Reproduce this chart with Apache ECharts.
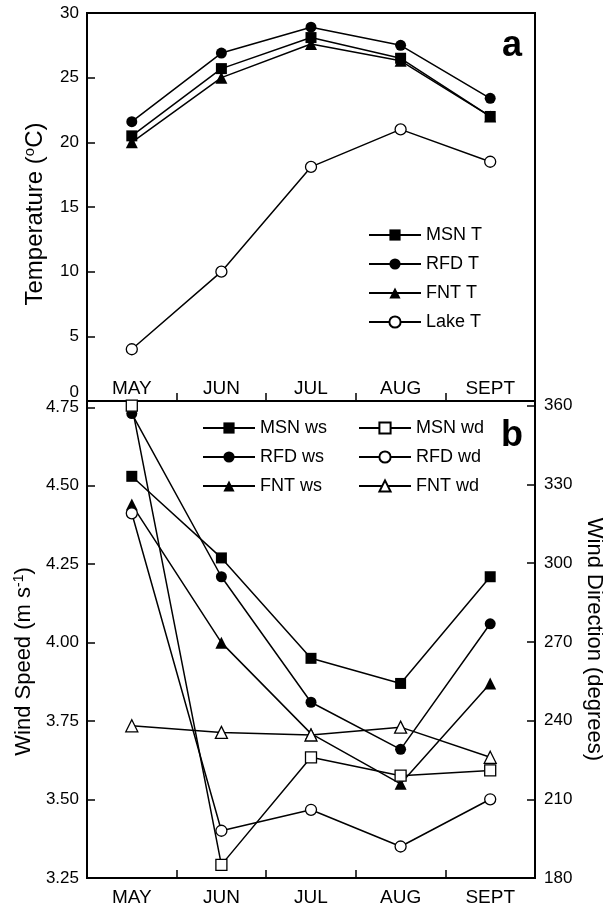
<!DOCTYPE html>
<html>
<head>
<meta charset="utf-8">
<script src="https://cdn.jsdelivr.net/npm/echarts@6/dist/echarts.min.js"></script>
<style>
  html, body { margin: 0; padding: 0; background: #fff; }
  #chart { width: 603px; height: 907px; }
</style>
</head>
<body>
<div id="chart"></div>
<script>
// data
var months = ['MAY', 'JUN', 'JUL', 'AUG', 'SEPT'];
var msnT = [20.5, 25.7, 28.1, 26.5, 22.0];
var rfdT = [21.6, 26.9, 28.9, 27.5, 23.4];
var fntT = [20.0, 25.0, 27.6, 26.3, 22.0];
var lakeT = [4.0, 10.0, 18.1, 21.0, 18.5];
var msnWs = [4.53, 4.27, 3.95, 3.87, 4.21];
var rfdWs = [4.73, 4.21, 3.81, 3.66, 4.06];
var fntWs = [4.44, 4.00, 3.71, 3.55, 3.87];
var msnWd = [360, 185, 226, 219, 221];
var rfdWd = [319, 198, 206, 192, 210];
var fntWd = [238, 235.5, 234.5, 237.5, 226];

(function () {
    var FONT = 'Liberation Sans, Arial, sans-serif';
    var myChart = echarts.init(document.getElementById('chart'));

    // line + marker style helper
    function line(name, data, symbol, open, xi, yi) {
        return {
            name: name,
            type: 'line',
            xAxisIndex: xi,
            yAxisIndex: yi,
            data: data,
            symbol: symbol,
            symbolSize: symbol === 'triangle' ? 12 : 11,
            showAllSymbol: true,
            lineStyle: { color: '#000', width: 1.5 },
            itemStyle: open
                ? { color: '#fff', borderColor: '#000', borderWidth: 1.3 }
                : { color: '#000', borderColor: '#000', borderWidth: 0 },
            emphasis: { disabled: true }
        };
    }

    var legendBase = {
        orient: 'vertical',
        itemWidth: 52,
        itemHeight: 14,
        itemGap: 11,
        selectedMode: false,
        padding: 0,
        textStyle: { fontSize: 18, color: '#000', fontFamily: FONT }
    };

    var tickStyle = { show: true, inside: true, length: 8, lineStyle: { color: '#000', width: 1.5 } };
    var lineAx = { show: true, lineStyle: { color: '#000', width: 2 } };
    var labelStyle = { color: '#000', fontSize: 17, fontFamily: FONT };

    var option = {
        animation: false,
        backgroundColor: '#fff',
        title: [
            { text: 'a', left: 502, top: 28, padding: 0,
              textStyle: { fontSize: 36, fontWeight: 'bold', color: '#000', fontFamily: FONT } },
            { text: 'b', left: 501, top: 418, padding: 0,
              textStyle: { fontSize: 36, fontWeight: 'bold', color: '#000', fontFamily: FONT } }
        ],
        legend: [
            Object.assign({}, legendBase, { data: ['MSN T', 'RFD T', 'FNT T', 'Lake T'], left: 368, top: 226 }),
            Object.assign({}, legendBase, { data: ['MSN ws', 'RFD ws', 'FNT ws'], left: 202, top: 419 }),
            Object.assign({}, legendBase, { data: ['MSN wd', 'RFD wd', 'FNT wd'], left: 358, top: 419 })
        ],
        grid: [
            { left: 87, right: 68, top: 13, height: 388, show: true, borderColor: '#000', borderWidth: 2,
              outerBoundsMode: 'none' },
            { left: 87, right: 68, top: 401, height: 477, show: true, borderColor: '#000', borderWidth: 2,
              outerBoundsMode: 'none' }
        ],
        xAxis: [
            {
                gridIndex: 0, type: 'category', data: months, boundaryGap: true,
                axisLine: lineAx, axisTick: tickStyle,
                axisLabel: Object.assign({}, labelStyle, { inside: true, margin: 3, fontSize: 19, interval: 0 })
            },
            {
                gridIndex: 1, type: 'category', data: months, boundaryGap: true,
                axisLine: lineAx, axisTick: tickStyle,
                axisLabel: Object.assign({}, labelStyle, { margin: 10, fontSize: 19, interval: 0 })
            }
        ],
        yAxis: [
            {
                gridIndex: 0, type: 'value', min: 0, max: 30, interval: 5,
                axisLine: lineAx, axisTick: tickStyle, splitLine: { show: false },
                axisLabel: Object.assign({}, labelStyle, {
                    margin: 8,
                    formatter: function (v) { return v === 0 ? '{lo|0}' : String(v); },
                    rich: { lo: { fontSize: 17, fontFamily: FONT, color: '#000', padding: [0, 0, 18, 0] } }
                }),
                name: 'Temperature ({sup|o}C)', nameLocation: 'middle', nameRotate: 90, nameGap: 39,
                nameTextStyle: {
                    fontSize: 24, color: '#000', fontFamily: FONT, padding: [0, 14, 0, 0],
                    rich: { sup: { fontSize: 15, color: '#000', fontFamily: FONT, padding: [0, 0, 11, 0] } }
                }
            },
            {
                gridIndex: 1, type: 'value', min: 3.25, max: 4.77, interval: 0.25,
                axisLine: lineAx, axisTick: tickStyle, splitLine: { show: false },
                axisLabel: Object.assign({}, labelStyle, {
                    margin: 8, showMaxLabel: false,
                    formatter: function (v) { return v.toFixed(2); }
                }),
                name: 'Wind Speed (m s{sup|-1})', nameLocation: 'middle', nameRotate: 90, nameGap: 49,
                nameTextStyle: {
                    fontSize: 22, color: '#000', fontFamily: FONT, padding: [0, 44, 0, 0],
                    rich: { sup: { fontSize: 14, color: '#000', fontFamily: FONT, padding: [0, 0, 10, 0] } }
                }
            },
            {
                gridIndex: 1, type: 'value', position: 'right', min: 180, max: 361.8, interval: 30,
                axisLine: lineAx, axisTick: tickStyle, splitLine: { show: false },
                axisLabel: Object.assign({}, labelStyle, { margin: 9, showMaxLabel: false }),
                name: 'Wind Direction (degrees)', nameLocation: 'middle', nameRotate: -90, nameGap: 44,
                nameTextStyle: { fontSize: 22, color: '#000', fontFamily: FONT }
            }
        ],
        series: [
            line('MSN T', msnT, 'rect', false, 0, 0),
            line('RFD T', rfdT, 'circle', false, 0, 0),
            line('FNT T', fntT, 'triangle', false, 0, 0),
            line('Lake T', lakeT, 'circle', true, 0, 0),
            line('MSN ws', msnWs, 'rect', false, 1, 1),
            line('RFD ws', rfdWs, 'circle', false, 1, 1),
            line('FNT ws', fntWs, 'triangle', false, 1, 1),
            line('MSN wd', msnWd, 'rect', true, 1, 2),
            line('RFD wd', rfdWd, 'circle', true, 1, 2),
            line('FNT wd', fntWd, 'triangle', true, 1, 2)
        ]
    };

    myChart.setOption(option);
    window.addEventListener('resize', function () {
        myChart.resize();
    });
})();
</script>
</body>
</html>
